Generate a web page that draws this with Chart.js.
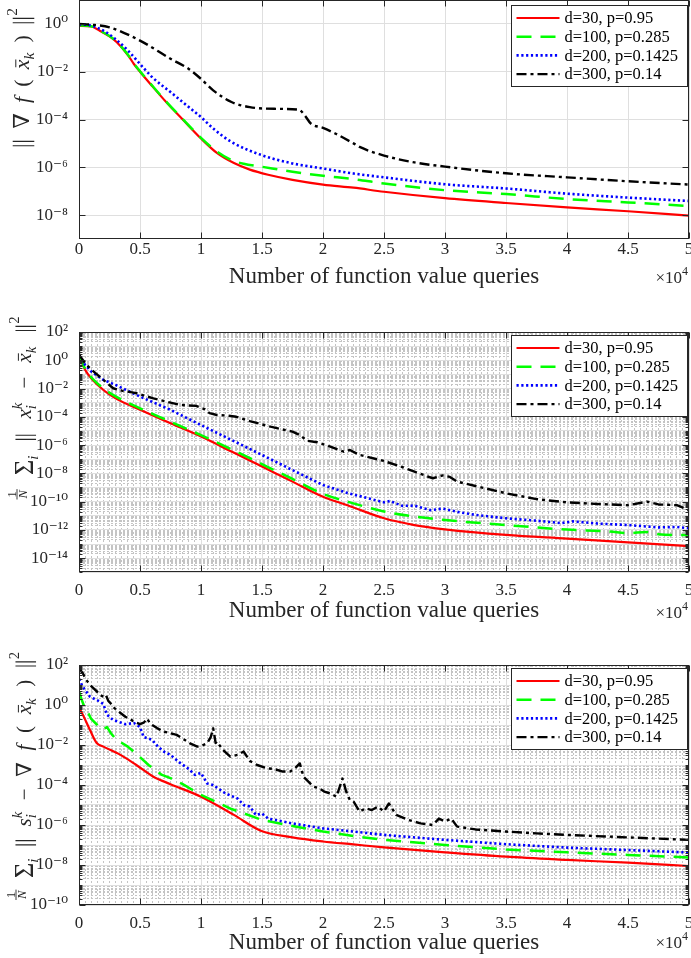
<!DOCTYPE html>
<html><head><meta charset="utf-8">
<script src="https://cdn.jsdelivr.net/npm/chart.js@4.4.1/dist/chart.umd.min.js"></script>
<style>
html,body{margin:0;padding:0;background:#fff;}
body{width:691px;height:958px;position:relative;overflow:hidden;}
canvas{position:absolute;left:0;}
</style></head><body>
<canvas id="c1" width="691" height="300" style="top:0px"></canvas>
<canvas id="c2" width="691" height="330" style="top:300px"></canvas>
<canvas id="c3" width="691" height="338" style="top:620px"></canvas>
<script>
// ---------- data (x = number of function value queries) ----------
const seriesLabels = ['d=30, p=0.95', 'd=100, p=0.285', 'd=200, p=0.1425', 'd=300, p=0.14'];
const xTickValues = [0,5000,10000,15000,20000,25000,30000,35000,40000,45000,50000];
const xTickLabels = ['0','0.5','1','1.5','2','2.5','3','3.5','4','4.5','5'];
const xLabel = 'Number of function value queries';

const p1YTickValues = [1e-8,1e-6,1e-4,1e-2,1];
const p1YTickLabels = ['10⁻⁸','10⁻⁶','10⁻⁴','10⁻²','10⁰'];
const p2YTickValues = [1e-14,1e-12,1e-10,1e-8,1e-6,1e-4,1e-2,1,100];
const p2YTickLabels = ['10⁻¹⁴','10⁻¹²','10⁻¹⁰','10⁻⁸','10⁻⁶','10⁻⁴','10⁻²','10⁰','10²'];
const p3YTickValues = [1e-10,1e-8,1e-6,1e-4,1e-2,1,100];
const p3YTickLabels = ['10⁻¹⁰','10⁻⁸','10⁻⁶','10⁻⁴','10⁻²','10⁰','10²'];

// panel 1: ||grad f(xbar_k)||^2
const p1Red = [[0,0.83],[1000,0.78],[1700,0.52],[2500,0.30],[3100,0.17],[4000,0.05],[4500,0.021],[5000,0.01],[6000,2.5e-3],[7200,5.0e-4],[8500,1.0e-4],[10000,1.6e-5],[11300,4.0e-6],[12700,1.5e-6],[14000,8.0e-7],[15500,4.9e-7],[17500,3.0e-7],[20000,1.9e-7],[22500,1.4e-7],[25000,9.5e-8],[30000,5.1e-8],[35000,3.2e-8],[40000,2.1e-8],[45000,1.45e-8],[50000,9.5e-9]];
const p1Green = [[0,0.87],[1000,0.80],[1700,0.53],[2500,0.31],[3100,0.175],[4000,0.052],[4500,0.022],[5000,0.0105],[6000,2.6e-3],[7200,5.2e-4],[8500,1.05e-4],[10000,1.7e-5],[11300,4.6e-6],[12500,2.0e-6],[13500,1.4e-6],[15000,1.05e-6],[17500,6.5e-7],[20000,4.4e-7],[22500,3.2e-7],[25000,2.1e-7],[30000,1.1e-7],[35000,7.6e-8],[40000,4.7e-8],[45000,3.4e-8],[50000,2.4e-8]];
const p1Blue = [[0,0.95],[1000,0.85],[2000,0.52],[3000,0.23],[4000,0.078],[5000,0.021],[6000,5.9e-3],[7500,1.4e-3],[9000,3.3e-4],[10000,1.26e-4],[11000,4.2e-5],[12500,1.15e-5],[15000,3.2e-6],[17500,1.45e-6],[20000,8.9e-7],[22500,5.5e-7],[25000,3.8e-7],[30000,1.95e-7],[35000,1.3e-7],[40000,7.9e-8],[45000,5.4e-8],[50000,3.9e-8]];
const p1Black = [[0,1.0],[1000,0.93],[2500,0.72],[5000,0.2],[7500,0.035],[9000,0.013],[10000,5.0e-3],[11000,1.66e-3],[12500,5.4e-4],[14000,3.3e-4],[16000,2.8e-4],[18000,2.6e-4],[18500,1.5e-4],[19000,6.8e-5],[20000,4.5e-5],[21000,2.6e-5],[22500,1.0e-5],[23000,7.1e-6],[25000,3.1e-6],[27500,1.6e-6],[30000,1.07e-6],[35000,5.6e-7],[40000,3.8e-7],[45000,2.6e-7],[50000,1.9e-7]];

// panel 2: (1/N) sum_i ||x_i^k - xbar_k||^2
const p2Red = [[0,2.4],[500,0.21],[1000,0.054],[2000,7.9e-3],[3000,2.0e-3],[5000,3.1e-4],[7500,3.5e-5],[10000,4.0e-6],[12500,3.5e-7],[15000,3.0e-8],[17500,2.6e-9],[20000,2.2e-10],[22000,5.6e-11],[25000,6.6e-12],[27500,2.2e-12],[30000,1.1e-12],[35000,4.4e-13],[40000,2.4e-13],[45000,1.3e-13],[50000,7.2e-14]];
const p2Green = [[0,2.4],[500,0.25],[1000,0.063],[2000,0.01],[3000,2.8e-3],[5000,4.0e-4],[7500,4.5e-5],[10000,5.0e-6],[12500,5.0e-7],[15000,4.5e-8],[17500,4.0e-9],[20000,3.5e-10],[22000,1.0e-10],[25000,2.0e-11],[27500,8.7e-12],[30000,5.0e-12],[35000,2.2e-12],[40000,1.05e-12],[43500,7.6e-13],[45000,5.8e-13],[46500,7.1e-13],[47500,5.0e-13],[50000,4.2e-13]];
const p2Blue = [[0,2.2],[500,0.47],[1000,0.16],[2000,0.041],[3000,0.018],[5000,2.7e-3],[7500,3.1e-4],[10000,2.6e-5],[12500,2.3e-6],[15000,2.0e-7],[17500,1.7e-8],[20000,1.5e-9],[22000,4.1e-10],[25000,8.9e-11],[25500,1.1e-10],[26500,5.0e-11],[27500,5.2e-11],[28800,2.5e-11],[29800,3.2e-11],[31000,1.9e-11],[32500,1.15e-11],[35000,6.6e-12],[37500,4.5e-12],[39500,3.0e-12],[40500,4.0e-12],[42500,2.8e-12],[45000,2.2e-12],[47500,1.5e-12],[49000,1.6e-12],[50000,1.3e-12]];
const p2Black = [[0,2.5],[500,0.63],[900,0.27],[2000,0.041],[2800,0.0105],[3500,7.1e-3],[4700,4.7e-3],[6100,2.0e-3],[7500,1.0e-3],[8300,6.9e-4],[9600,5.9e-4],[10300,3.5e-4],[10700,1.8e-4],[11300,1.35e-4],[12000,1.26e-4],[12900,1.0e-4],[14000,5.0e-5],[15700,2.0e-5],[17500,8.9e-6],[18100,5.1e-6],[18700,2.0e-6],[19500,1.6e-6],[20600,7.8e-7],[21700,3.4e-7],[22200,4.5e-7],[23000,2.0e-7],[24900,7.9e-8],[26300,3.2e-8],[27500,1.3e-8],[29000,4.5e-9],[29800,7.1e-9],[30400,5.6e-9],[31000,2.6e-9],[35000,3.9e-10],[37500,1.5e-10],[40000,8.9e-11],[42500,6.8e-11],[45000,5.6e-11],[46600,1.0e-10],[47500,6.3e-11],[49000,5.6e-11],[50000,2.5e-11]];

// panel 3: (1/N) sum_i ||s_i^k - grad f(xbar_k)||^2
const p3Red = [[0,0.76],[300,0.34],[900,0.056],[1450,0.0126],[2000,8.3e-3],[3400,3.2e-3],[4700,1.0e-3],[6100,2.6e-4],[7500,1.1e-4],[10000,2.6e-5],[12700,3.2e-6],[14900,5.2e-7],[17500,2.4e-7],[20000,1.5e-7],[22500,1.07e-7],[25000,7.6e-8],[30000,4.3e-8],[35000,2.6e-8],[40000,1.8e-8],[45000,1.3e-8],[50000,8.9e-9]];
const p3Green = [[0,4.7],[200,2.0],[500,0.63],[750,0.4],[1000,0.2],[1500,0.1],[1700,0.069],[2000,0.063],[2300,0.079],[2600,0.04],[3000,0.02],[4000,8.3e-3],[4800,3.2e-3],[5700,1.0e-3],[6800,3.2e-4],[7500,2.2e-4],[8500,1.1e-4],[10000,3.2e-5],[12500,6.3e-6],[15000,1.8e-6],[17500,8.9e-7],[20000,4.7e-7],[22500,2.8e-7],[25000,1.8e-7],[30000,1.0e-7],[35000,6.0e-8],[40000,4.3e-8],[45000,3.2e-8],[50000,2.4e-8]];
const p3Blue = [[0,20],[300,8.3],[900,2.6],[1700,1.5],[2000,1.1],[2300,0.32],[2800,0.18],[3800,0.11],[4500,0.126],[5000,0.079],[5300,0.025],[6000,0.018],[6500,7.9e-3],[7000,4.5e-3],[7500,3.2e-3],[8200,1.4e-3],[9000,6.3e-4],[9500,3.2e-4],[10000,4.0e-4],[10500,1.2e-4],[11000,1.0e-4],[12000,3.8e-5],[13000,2.1e-5],[13500,1.0e-5],[14000,8.3e-6],[14500,3.2e-6],[15000,3.8e-6],[15500,2.1e-6],[17500,1.2e-6],[20000,6.8e-7],[22500,4.7e-7],[25000,3.2e-7],[30000,1.8e-7],[35000,1.1e-7],[40000,7.4e-8],[45000,5.6e-8],[50000,4.2e-8]];
const p3Black = [[0,68],[300,40],[600,18],[900,10],[1200,6.8],[1500,4.5],[1700,3.2],[2000,2.6],[2200,3.2],[2400,1.6],[2600,1.2],[2900,0.7],[3100,0.56],[3400,0.4],[3800,0.26],[4200,0.19],[4500,0.15],[5000,0.11],[5300,0.13],[5600,0.21],[5800,0.12],[6000,0.1],[6400,0.07],[6900,0.047],[7400,0.04],[8000,0.032],[8500,0.021],[9100,0.012],[9700,8.3e-3],[10100,9.5e-3],[10500,0.012],[10800,0.025],[11000,0.068],[11100,0.03],[11200,0.0126],[11300,0.015],[11800,5.6e-3],[12400,2.6e-3],[13000,3.2e-3],[13500,4.7e-3],[14000,1.6e-3],[14600,1.0e-3],[15400,6.8e-4],[16000,6.3e-4],[16700,4.7e-4],[17300,4.7e-4],[17700,6.8e-4],[18100,1.2e-3],[18400,2.6e-4],[19200,8.3e-5],[19700,6.8e-5],[20100,4.7e-5],[20600,3.8e-5],[21100,2.6e-5],[21600,2.1e-4],[21900,4.7e-5],[22200,1.8e-5],[22500,1.5e-5],[23000,4.7e-6],[23500,6.8e-6],[24000,5.6e-6],[24500,8.3e-6],[25000,4.7e-6],[25400,1.2e-5],[26000,3.2e-6],[27000,1.8e-6],[28000,1.2e-6],[29000,1.0e-6],[29500,2.1e-6],[30000,1.5e-6],[30500,2.1e-6],[31000,8.3e-7],[32500,6.0e-7],[35000,4.7e-7],[37500,3.8e-7],[40000,3.2e-7],[45000,2.4e-7],[50000,1.8e-7]];

// ---------- styling ----------
const FONT = '"Liberation Serif","DejaVu Serif",serif';
const INK = '#262626';
const MAJOR_GRID = '#dfdfdf';
const MINOR_GRID = '#c4c4c4';
const lineStyles = [
  {color:'#ff0000', width:2.2, dash:[]},
  {color:'#00ff00', width:2.5, dash:[15,9]},
  {color:'#0000ff', width:2.6, dash:[2.2,2.6]},
  {color:'#000000', width:2.4, dash:[10,4,3,4]}
];

function isDecade(v){ const e = Math.log10(v); return Math.abs(e - Math.round(e)) < 1e-6; }
function idxOf(vals, v){ return vals.findIndex(t => Math.abs(Math.log10(t) - Math.log10(v)) < 1e-6); }
function logMinorTicks(minExp, maxExp){
  const out = [];
  for (let n = minExp; n < maxExp; n++) for (let k = 1; k <= 9; k++) out.push(Number((k*Math.pow(10,n)).toPrecision(3)));
  out.push(Number(Math.pow(10,maxExp).toPrecision(3)));
  return out;
}
function xMinorTicks(){ const o=[]; for (let v=0; v<=50000; v+=500) o.push(v); return o; }

// ---------- math label renderer (rotated y-axis labels) ----------
const FRAC_SCALE = 0.6;
function tokWidth(ctx, t, s){
  if (t.frac){ const fs = s*FRAC_SCALE; ctx.font = `${fs}px ${FONT}`; const a = ctx.measureText(t.frac[0]).width; ctx.font = `italic ${fs}px ${FONT}`; const b = ctx.measureText(t.frac[1]).width; return Math.max(a,b)+2; }
  let w;
  if (t.bars) w = s*0.42;
  else { const fs = t.big ? s*1.25 : s; ctx.font = `${t.it?'italic ':''}${fs}px ${FONT}`; w = ctx.measureText(t.s).width; }
  let sw = 0;
  ctx.font = `italic ${s*0.7}px ${FONT}`;
  if (t.sub) sw = Math.max(sw, ctx.measureText(t.sub).width);
  ctx.font = `${/[0-9]/.test(t.sup||'')?'':'italic '}${s*0.7}px ${FONT}`;
  if (t.sup) sw = Math.max(sw, ctx.measureText(t.sup).width);
  return w + sw;
}
// baseX: canvas x of the text baseline, cy: canvas y of the label centre, fracX: canvas x of the fraction bar
function drawMath(ctx, tokens, baseX, cy, s, target, fracX){
  ctx.save();
  const widths = tokens.map(t => tokWidth(ctx, t, s));
  const nat = widths.reduce((a,b)=>a+b,0);
  const gap = Math.max(0, (target - nat) / (tokens.length - 1));
  const total = nat + gap*(tokens.length-1);
  ctx.translate(baseX, cy); ctx.rotate(-Math.PI/2);
  ctx.fillStyle = INK; ctx.strokeStyle = INK; ctx.textBaseline = 'alphabetic'; ctx.textAlign = 'left';
  const base = 0;
  let x = -total/2;
  tokens.forEach((t,i) => {
    const w = widths[i];
    if (t.frac){
      const fs = s*FRAC_SCALE;
      const axis = (fracX === undefined ? baseX - 0.3*s : fracX) - baseX;
      ctx.font = `${fs}px ${FONT}`;
      const a = ctx.measureText(t.frac[0]).width;
      ctx.fillText(t.frac[0], x + (w-a)/2, axis - 1.5);
      ctx.font = `italic ${fs}px ${FONT}`;
      const b = ctx.measureText(t.frac[1]).width;
      ctx.fillText(t.frac[1], x + (w-b)/2, axis + 1.5 + fs*0.68);
      ctx.lineWidth = 0.9; ctx.beginPath(); ctx.moveTo(x, axis); ctx.lineTo(x+w, axis); ctx.stroke();
    } else {
      let gw;
      if (t.bars){
        gw = s*0.42;
        ctx.lineWidth = 1.1; ctx.beginPath();
        ctx.moveTo(x + s*0.1, base + s*0.24); ctx.lineTo(x + s*0.1, base - s*0.74);
        ctx.moveTo(x + s*0.3, base + s*0.24); ctx.lineTo(x + s*0.3, base - s*0.74);
        ctx.stroke();
      } else {
        const fs = t.big ? s*1.25 : s;
        ctx.font = `${t.it?'italic ':''}${fs}px ${FONT}`;
        gw = ctx.measureText(t.s).width;
        const by = t.big ? base + s*0.08 : base;
        ctx.fillText(t.s, x, by);
      }
      if (t.bar){ ctx.lineWidth = 1; ctx.beginPath(); ctx.moveTo(x + gw*0.2, base - s*0.6); ctx.lineTo(x + gw*1.0, base - s*0.6); ctx.stroke(); }
      if (t.sub){ ctx.font = `italic ${s*0.7}px ${FONT}`; ctx.fillText(t.sub, x + gw, base + s*(t.big?0.35:0.22)); }
      if (t.sup){ ctx.font = `${/[0-9]/.test(t.sup)?'':'italic '}${s*0.7}px ${FONT}`; ctx.fillText(t.sup, x + gw, base - s*(t.bars?0.55:0.42)); }
    }
    x += w + gap;
  });
  ctx.restore();
}

const yLabel1 = [{bars:1},{s:'∇'},{s:'f',it:1},{s:'('},{s:'x',it:1,bar:1,sub:'k'},{s:')'},{bars:1,sup:'2'}];
const yLabel2 = [{frac:['1','N']},{s:'Σ',big:1,sub:'i'},{bars:1},{s:'x',it:1,sub:'i',sup:'k'},{s:'−'},{s:'x',it:1,bar:1,sub:'k'},{bars:1,sup:'2'}];
const yLabel3 = [{frac:['1','N']},{s:'Σ',big:1,sub:'i'},{bars:1},{s:'s',it:1,sub:'i',sup:'k'},{s:'−'},{s:'∇'},{s:'f',it:1},{s:'('},{s:'x',it:1,bar:1,sub:'k'},{s:')'},{bars:1,sup:'2'}];

// ---------- decoration plugin (box, inward ticks, legend, y label, x10^4) ----------
function makeDecor(cfg){
  return {
    id: 'decor',
    afterDatasetsDraw(chart){
      const {ctx, chartArea:a} = chart;
      const xs = chart.scales.x, ys = chart.scales.y;
      const L = Math.round(a.left)+0.5, R = Math.round(a.right)-0.5, T = Math.round(a.top)+0.5, B = Math.round(a.bottom)-0.5;
      ctx.save();
      ctx.setLineDash([]); ctx.strokeStyle = INK; ctx.lineWidth = 1;
      ctx.beginPath();
      xTickValues.forEach(v => { const px = Math.round(xs.getPixelForValue(v))+0.5; ctx.moveTo(px,B); ctx.lineTo(px,B-6); ctx.moveTo(px,T); ctx.lineTo(px,T+6); });
      ys.ticks.forEach(t => {
        const py = Math.round(ys.getPixelForValue(t.value))+0.5;
        const len = idxOf(cfg.yTickValues, t.value) >= 0 ? 6 : 3;
        ctx.moveTo(L,py); ctx.lineTo(L+len,py); ctx.moveTo(R,py); ctx.lineTo(R-len,py);
      });
      ctx.stroke();
      ctx.strokeRect(L, T, R-L, B-T);
      // legend
      const bw = 176, bh = 81;
      const bx = Math.round(a.right) - 2 - bw + 0.5, by = cfg.legendTop + 0.5;
      ctx.fillStyle = '#fff'; ctx.fillRect(bx, by, bw, bh);
      ctx.strokeStyle = INK; ctx.lineWidth = 1; ctx.strokeRect(bx, by, bw, bh);
      chart.data.datasets.forEach((ds,i) => {
        const yy = by + 12.5 + i*18.7;
        ctx.save();
        ctx.strokeStyle = ds.borderColor; ctx.lineWidth = ds.borderWidth; ctx.setLineDash(ds.borderDash || []);
        ctx.beginPath(); ctx.moveTo(bx+5, yy); ctx.lineTo(bx+48, yy); ctx.stroke();
        ctx.restore();
        ctx.fillStyle = '#000'; ctx.font = `16.5px ${FONT}`; ctx.textBaseline = 'middle'; ctx.textAlign = 'left';
        ctx.fillText(ds.label, bx+53, yy+1);
      });
      ctx.restore();
    },
    afterDraw(chart){
      const {ctx, chartArea:a} = chart;
      ctx.save();
      drawMath(ctx, cfg.yLabel, cfg.yLabelX, cfg.yLabelY, cfg.yLabelSize, cfg.yLabelLen, cfg.fracX);
      ctx.fillStyle = INK; ctx.textBaseline = 'alphabetic'; ctx.textAlign = 'left';
      ctx.font = `17px ${FONT}`; const w1 = ctx.measureText('×10').width;
      ctx.font = `12px ${FONT}`; const w2 = ctx.measureText('4').width;
      const x0 = a.right - 1 - w1 - w2;
      ctx.font = `17px ${FONT}`; ctx.fillText('×10', x0, cfg.x10Y + 6);
      ctx.font = `12px ${FONT}`; ctx.fillText('4', x0 + w1, cfg.x10Y - 2);
      ctx.restore();
    }
  };
}

function makePanel(id, cfg){
  const datasets = cfg.series.map((data,i) => ({
    label: seriesLabels[i], data,
    borderColor: lineStyles[i].color, backgroundColor: lineStyles[i].color,
    borderWidth: lineStyles[i].width, borderDash: lineStyles[i].dash,
    borderCapStyle: 'butt', borderJoinStyle: 'round',
    pointRadius: 0, fill: false, order: 3 - i,
    tension: 0, cubicInterpolationMode: cfg.smooth[i] ? 'monotone' : 'default'
  }));
  const yMinorOn = !!cfg.minor;
  return new Chart(document.getElementById(id), {
    type: 'line',
    data: { datasets },
    plugins: [makeDecor(cfg)],
    options: {
      responsive: false, animation: false, devicePixelRatio: 1,
      layout: { padding: { top: cfg.padTop, right: 2, left: 0, bottom: 0 } },
      plugins: { legend: { display: false }, tooltip: { enabled: false } },
      scales: {
        x: {
          type: 'linear', min: 0, max: 50000, position: 'bottom',
          afterBuildTicks: s => { s.ticks = (cfg.minor ? xMinorTicks() : xTickValues).map(v => ({value: v})); },
          afterFit: s => { s.height = cfg.xH; s.paddingLeft = 0; s.paddingRight = 0; },
          ticks: {
            autoSkip: false, maxRotation: 0, minRotation: 0, padding: cfg.xPad, color: INK,
            font: { family: FONT, size: 17 },
            callback: v => { const i = xTickValues.indexOf(v); return i >= 0 ? xTickLabels[i] : ''; }
          },
          grid: {
            drawTicks: false, lineWidth: 1,
            color: c => { const v = c.tick ? c.tick.value : undefined; if (v === undefined) return 'rgba(0,0,0,0)'; return (v % 5000 === 0) ? MAJOR_GRID : MINOR_GRID; }
          },
          border: { display: false, dash: c => { const v = c.tick ? c.tick.value : undefined; return (v !== undefined && v % 5000 !== 0) ? [2,2] : []; } },
          title: { display: true, text: xLabel, color: INK, font: { family: FONT, size: 23 }, padding: { top: 0, bottom: cfg.titlePad } }
        },
        y: {
          type: 'logarithmic', min: cfg.yMin, max: cfg.yMax, position: 'left',
          afterBuildTicks: s => { s.ticks = cfg.yTicks.map(v => ({value: v})); },
          afterFit: s => { s.width = 79; s.paddingTop = 0; s.paddingBottom = 0; },
          ticks: {
            autoSkip: false, padding: 11, color: INK, font: { family: FONT, size: 17 },
            callback: v => { const i = idxOf(cfg.yTickValues, v); return i >= 0 ? cfg.yTickLabels[i] : ''; }
          },
          grid: {
            drawTicks: false, lineWidth: 1,
            color: c => { const v = c.tick ? c.tick.value : undefined; if (v === undefined) return 'rgba(0,0,0,0)'; return (yMinorOn && !isDecade(v)) ? MINOR_GRID : MAJOR_GRID; }
          },
          border: { display: false, dash: c => { const v = c.tick ? c.tick.value : undefined; return (v !== undefined && yMinorOn && !isDecade(v)) ? [2,2] : []; } }
        }
      }
    }
  });
}

makePanel('c1', {
  series: [p1Red, p1Green, p1Blue, p1Black], smooth: [1,1,1,1],
  yMin: 1e-9, yMax: 10, yTicks: p1YTickValues, yTickValues: p1YTickValues, yTickLabels: p1YTickLabels,
  minor: false, padTop: 0, xH: 61, xPad: 0, titlePad: 8.8, legendTop: 5,
  yLabel: yLabel1, yLabelX: 29, yLabelY: 78, yLabelLen: 140, yLabelSize: 22, x10Y: 277
});
makePanel('c2', {
  series: [p2Red, p2Green, p2Blue, p2Black], smooth: [1,1,0,0],
  yMin: 1e-15, yMax: 100, yTicks: logMinorTicks(-15, 2), yTickValues: p2YTickValues, yTickLabels: p2YTickLabels,
  minor: true, padTop: 32, xH: 57.7, xPad: 8, titlePad: 5.1, legendTop: 35,
  yLabel: yLabel2, yLabelX: 31, yLabelY: 108, yLabelLen: 183, yLabelSize: 21, fracX: 17, x10Y: 311.7
});
makePanel('c3', {
  series: [p3Red, p3Green, p3Blue, p3Black], smooth: [1,0,0,0],
  yMin: 1e-10, yMax: 100, yTicks: logMinorTicks(-10, 2), yTickValues: p3YTickValues, yTickLabels: p3YTickLabels,
  minor: true, padTop: 45, xH: 53, xPad: 8, titlePad: 1.5, legendTop: 48,
  yLabel: yLabel3, yLabelX: 31, yLabelY: 156, yLabelLen: 248, yLabelSize: 21, fracX: 16, x10Y: 321.7
});
</script>
</body></html>
